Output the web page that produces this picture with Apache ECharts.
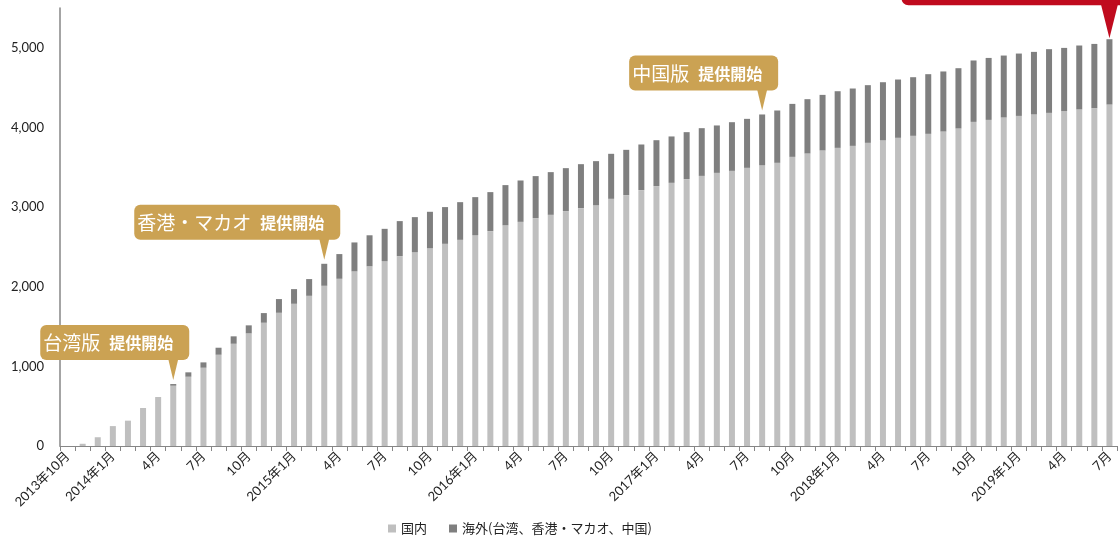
<!DOCTYPE html>
<html>
<head>
<meta charset="utf-8">
<style>
	html,body{ margin:0; padding:0; background:#fff;}
	#mainBox{ width:1120px; height:540px;}
</style>
<script src="https://cdn.jsdelivr.net/npm/echarts@6/dist/echarts.min.js"></script>
</head>
<body>
<div id="mainBox"></div>
<script>
// 月別（2013年10月～2019年7月）
var months=[
	'2013年10月','11月','12月',
	'2014年1月','2月','3月','4月','5月','6月','7月','8月','9月','10月','11月','12月',
	'2015年1月','2月','3月','4月','5月','6月','7月','8月','9月','10月','11月','12月',
	'2016年1月','2月','3月','4月','5月','6月','7月','8月','9月','10月','11月','12月',
	'2017年1月','2月','3月','4月','5月','6月','7月','8月','9月','10月','11月','12月',
	'2018年1月','2月','3月','4月','5月','6月','7月','8月','9月','10月','11月','12月',
	'2019年1月','2月','3月','4月','5月','6月','7月'
];
var domestic=[
	0,28,110,250,318,477,615,757,870,983,1146,1284,1414,1548,1673,1786,1886,2012,2100,2192,
	2257,2322,2384,2435,2485,2539,2589,2648,2698,2770,2815,2861,2903,2949,2987,3025,3104,3150,3213,3263,
	3305,3351,3392,3430,3455,3493,3527,3556,3631,3673,3711,3744,3769,3807,3837,3870,3895,3920,3949,3987,
	4070,4095,4125,4145,4163,4183,4204,4226,4242,4288
];
var overseas=[
	0,0,0,0,0,0,0,21,55,67,88,93,101,121,172,184,210,276,310,364,
	389,405,440,439,456,461,473,477,490,506,519,528,536,540,552,552,565,569,573,577,
	582,590,599,595,611,615,636,657,665,682,698,711,720,724,731,732,736,749,754,757,
	771,778,778,783,786,800,795,803,807,820
];
var yTicks=[0,1000,2000,3000,4000,5000];
var seriesNames=['国内','海外(台湾、香港・マカオ、中国)'];
// 吹き出し（対象月, 大きい文字, 小さい文字）
var notes=[
	{month:'5月',year:2014,big:'台湾版',small:'提供開始'},
	{month:'3月',year:2015,big:'香港・マカオ',small:'提供開始'},
	{month:'8月',year:2017,big:'中国版',small:'提供開始'}
];

var gold='#CBA253';
var red='#C00B1E';
var txtFont='Lato, "Noto Sans CJK JP", sans-serif';
var cjkFont='"Noto Sans CJK JP", sans-serif';

var myChart=echarts.init(document.getElementById('mainBox'),null,{renderer:'canvas'});

var fmtNum=function(v){
	return String(v).replace(/\B(?=(\d{3})+(?!\d))/g,',');
};

myChart.setOption({
	animation:false,
	grid:{left:60,right:3,top:8,bottom:94,outerBoundsMode:'none',containLabel:false},
	legend:{
		left:383,top:517,
		itemWidth:8,itemHeight:8,itemGap:22,
		icon:'rect',
		textStyle:{fontSize:13,color:'#222',fontFamily:cjkFont},
		data:seriesNames
	},
	xAxis:{
		type:'category',
		data:months,
		boundaryGap:true,
		axisLine:{lineStyle:{color:'#868686',width:1}},
		axisTick:{show:true,interval:0,length:5,alignWithLabel:false,lineStyle:{color:'#868686'}},
		axisLabel:{interval:2,rotate:45,fontSize:13,color:'#222',margin:8,fontFamily:txtFont},
		splitLine:{show:false}
	},
	yAxis:{
		type:'value',
		min:0,max:5500,interval:1000,
		axisLine:{show:true,lineStyle:{color:'#868686',width:1.5}},
		axisTick:{show:false},
		splitLine:{show:false},
		axisLabel:{
			fontSize:13,color:'#222',margin:16,fontFamily:txtFont,
			showMaxLabel:false,
			formatter:function(v){ return yTicks.indexOf(v)>-1?fmtNum(v):''; }
		}
	},
	series:[
		{name:seriesNames[0],type:'bar',stack:'total',barWidth:6,data:domestic,itemStyle:{color:'#BFBFBF'}},
		{name:seriesNames[1],type:'bar',stack:'total',barWidth:6,data:overseas,itemStyle:{color:'#7F7F7F'}}
	]
});

// 月名と年から番号を探す
var findIdx=function(year,month){
	var cur=null;
	for(var i=0;i<months.length;i++){
		var m=months[i].match(/^(\d{4})年/);
		if(m)cur=parseInt(m[1]);
		var name=months[i].replace(/^\d{4}年/,'');
		if(cur==year && name==month)return i;
	}
	return -1;
};

var graphics=[];
for(var n in notes){
	var idx=findIdx(notes[n].year,notes[n].month);
	var tot=domestic[idx]+overseas[idx];
	var p=myChart.convertToPixel({xAxisIndex:0,yAxisIndex:0},[idx,tot]);
	var tipY=p[1]-4;
	graphics.push({
		type:'polygon',z:100,
		shape:{points:[[p[0]-5,tipY-21],[p[0]+5,tipY-21],[p[0],tipY]]},
		style:{fill:gold}
	});
	graphics.push({
		type:'text',z:101,
		x:p[0]+16,y:tipY-20,
		style:{
			text:'{a|'+notes[n].big+'}{b|'+notes[n].small+'}',
			align:'right',verticalAlign:'bottom',
			backgroundColor:gold,borderRadius:6,
			padding:[7,16,6,3],
			rich:{
				a:{fontSize:19,fill:'#fff',fontFamily:cjkFont,fontWeight:'normal',lineHeight:22},
				b:{fontSize:16,fill:'#fff',fontFamily:cjkFont,fontWeight:'bold',lineHeight:22,padding:[0,0,0,9]}
			}
		}
	});
}
// 最新月の赤い吹き出し（上端は画面外）
var li=months.length-1;
var lp=myChart.convertToPixel({xAxisIndex:0,yAxisIndex:0},[li,domestic[li]+overseas[li]]);
graphics.push({
	type:'rect',z:100,
	shape:{x:lp[0]-208,y:lp[1]-80,width:260,height:46,r:7},
	style:{fill:red}
});
graphics.push({
	type:'polygon',z:100,
	shape:{points:[[lp[0]-8.5,lp[1]-35],[lp[0]+8.5,lp[1]-35],[lp[0],lp[1]-1]]},
	style:{fill:red}
});
myChart.setOption({graphic:graphics});
</script>
</body>
</html>
